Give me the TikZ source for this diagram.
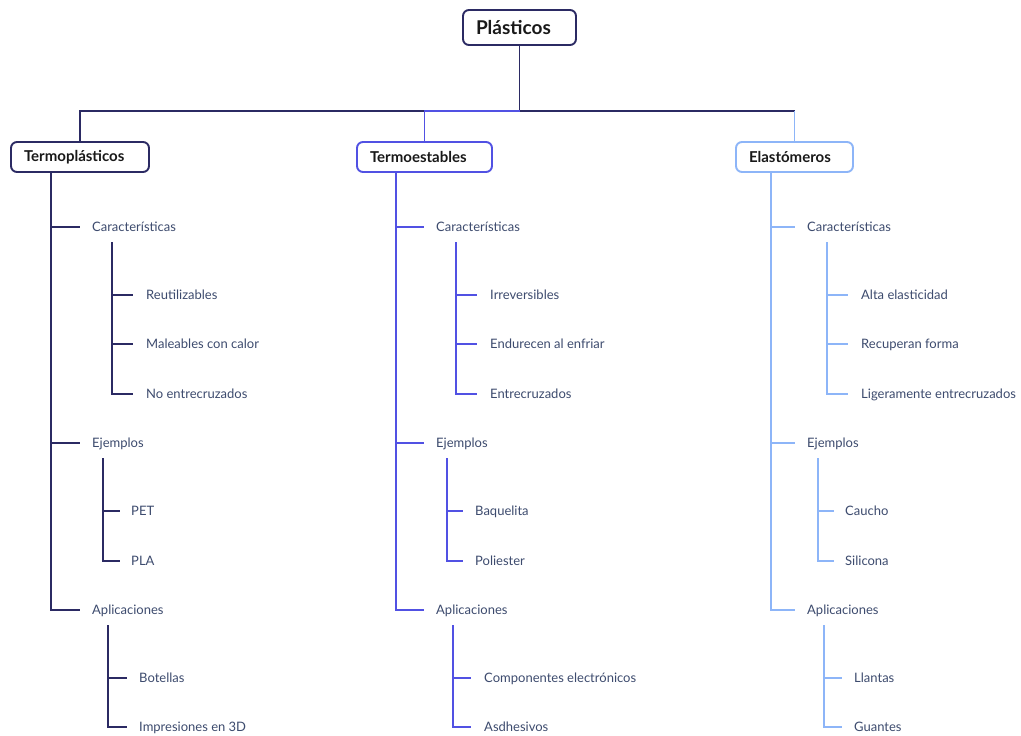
\documentclass[tikz,border=0pt]{standalone}
\usepackage{fontspec}
\setmainfont{Lato}
\definecolor{cA}{HTML}{2B2A63}
\definecolor{cB}{HTML}{5151E3}
\definecolor{cC}{HTML}{8DB5F8}
\definecolor{txt}{HTML}{3D4B6E}
\begin{document}
\begin{tikzpicture}[x=1pt,y=-1pt,
  ln/.style={line width=1.9pt},
  lbl/.style={anchor=west,inner xsep=0pt,inner ysep=1pt,text height=9.4pt,text depth=0pt,text=txt,font=\fontsize{13}{15}\selectfont},
  box/.style={draw,line width=1.9pt,rounded corners=6pt,fill=white,inner xsep=13pt,inner ysep=0pt,
    align=left,text=black!90,font=\bfseries\fontsize{15}{18}\selectfont,minimum height=30pt}]
\useasboundingbox[fill=white] (0,0) rectangle (1021,736);

% root and branch boxes
\node[box,draw=cA,font=\bfseries\fontsize{19}{22}\selectfont,minimum height=35pt,text width=87pt] (root) at (519.5,27.5) {Plásticos};
\node[box,draw=cA,text width=112pt] (tp) at (80,157) {Termoplásticos};
\node[box,draw=cB,text width=109pt] (te) at (424.5,157) {Termoestables};
\node[box,draw=cC,text width=91pt] (el) at (794.5,157) {Elastómeros};

% top connectors
\draw[ln,cA] (root.south) -- ++(0,65) coordinate (bus) -| (tp.north);
\draw[ln,cA] (bus) -| (el.north |- bus) coordinate (busC);
\draw[ln,cB] (bus) -| (te.north);
\draw[ln,cC] (busC) -- (el.north);

% ---------- Branch A ----------
\coordinate (am) at ([xshift=41pt]tp.south west);
\node[lbl] (a1) at (92,227) {Características};
\node[lbl] (a2) at (92,443) {Ejemplos};
\node[lbl] (a3) at (92,610) {Aplicaciones};
\draw[ln,cA] (am) |- ([xshift=-12pt]a3.west);
\draw[ln,cA] (a1.west -| am) -- ([xshift=-12pt]a1.west);
\draw[ln,cA] (a2.west -| am) -- ([xshift=-12pt]a2.west);
\coordinate (as1) at ([xshift=20pt,yshift=-15pt]a1.west);
\coordinate (as2) at ([xshift=11pt,yshift=-15pt]a2.west);
\coordinate (as3) at ([xshift=16pt,yshift=-15pt]a3.west);
\foreach \n/\yy/\tt in {a11/295/Reutilizables,a12/344/Maleables con calor,a13/394/No entrecruzados}{
  \node[lbl] (\n) at (146,\yy) {\tt};
  \draw[ln,cA] (\n.west -| as1) -- ([xshift=-13pt]\n.west);}
\draw[ln,cA] (as1) |- ([xshift=-13pt]a13.west);
\foreach \n/\yy/\tt in {a21/511/PET,a22/561/PLA}{
  \node[lbl] (\n) at (131,\yy) {\tt};
  \draw[ln,cA] (\n.west -| as2) -- ([xshift=-11pt]\n.west);}
\draw[ln,cA] (as2) |- ([xshift=-11pt]a22.west);
\foreach \n/\yy/\tt in {a31/678/Botellas,a32/727/Impresiones en 3D}{
  \node[lbl] (\n) at (139,\yy) {\tt};
  \draw[ln,cA] (\n.west -| as3) -- ([xshift=-12pt]\n.west);}
\draw[ln,cA] (as3) |- ([xshift=-12pt]a32.west);

% ---------- Branch B ----------
\coordinate (bm) at ([xshift=40pt]te.south west);
\node[lbl] (b1) at (436,227) {Características};
\node[lbl] (b2) at (436,443) {Ejemplos};
\node[lbl] (b3) at (436,610) {Aplicaciones};
\draw[ln,cB] (bm) |- ([xshift=-12pt]b3.west);
\draw[ln,cB] (b1.west -| bm) -- ([xshift=-12pt]b1.west);
\draw[ln,cB] (b2.west -| bm) -- ([xshift=-12pt]b2.west);
\coordinate (bs1) at ([xshift=20pt,yshift=-15pt]b1.west);
\coordinate (bs2) at ([xshift=11pt,yshift=-15pt]b2.west);
\coordinate (bs3) at ([xshift=17pt,yshift=-15pt]b3.west);
\foreach \n/\yy/\tt in {b11/295/Irreversibles,b12/344/Endurecen al enfriar,b13/394/Entrecruzados}{
  \node[lbl] (\n) at (490,\yy) {\tt};
  \draw[ln,cB] (\n.west -| bs1) -- ([xshift=-13pt]\n.west);}
\draw[ln,cB] (bs1) |- ([xshift=-13pt]b13.west);
\foreach \n/\yy/\tt in {b21/511/Baquelita,b22/561/Poliester}{
  \node[lbl] (\n) at (475,\yy) {\tt};
  \draw[ln,cB] (\n.west -| bs2) -- ([xshift=-12pt]\n.west);}
\draw[ln,cB] (bs2) |- ([xshift=-12pt]b22.west);
\foreach \n/\yy/\tt in {b31/678/Componentes electrónicos,b32/727/Asdhesivos}{
  \node[lbl] (\n) at (484,\yy) {\tt};
  \draw[ln,cB] (\n.west -| bs3) -- ([xshift=-13pt]\n.west);}
\draw[ln,cB] (bs3) |- ([xshift=-13pt]b32.west);

% ---------- Branch C ----------
\coordinate (cm) at ([xshift=36pt]el.south west);
\node[lbl] (c1) at (807,227) {Características};
\node[lbl] (c2) at (807,443) {Ejemplos};
\node[lbl] (c3) at (807,610) {Aplicaciones};
\draw[ln,cC] (cm) |- ([xshift=-12pt]c3.west);
\draw[ln,cC] (c1.west -| cm) -- ([xshift=-12pt]c1.west);
\draw[ln,cC] (c2.west -| cm) -- ([xshift=-12pt]c2.west);
\coordinate (cs1) at ([xshift=20pt,yshift=-15pt]c1.west);
\coordinate (cs2) at ([xshift=11pt,yshift=-15pt]c2.west);
\coordinate (cs3) at ([xshift=17pt,yshift=-15pt]c3.west);
\foreach \n/\yy/\tt in {c11/295/Alta elasticidad,c12/344/Recuperan forma,c13/394/Ligeramente entrecruzados}{
  \node[lbl] (\n) at (861,\yy) {\tt};
  \draw[ln,cC] (\n.west -| cs1) -- ([xshift=-13pt]\n.west);}
\draw[ln,cC] (cs1) |- ([xshift=-13pt]c13.west);
\foreach \n/\yy/\tt in {c21/511/Caucho,c22/561/Silicona}{
  \node[lbl] (\n) at (845,\yy) {\tt};
  \draw[ln,cC] (\n.west -| cs2) -- ([xshift=-11pt]\n.west);}
\draw[ln,cC] (cs2) |- ([xshift=-11pt]c22.west);
\foreach \n/\yy/\tt in {c31/678/Llantas,c32/727/Guantes}{
  \node[lbl] (\n) at (854,\yy) {\tt};
  \draw[ln,cC] (\n.west -| cs3) -- ([xshift=-12pt]\n.west);}
\draw[ln,cC] (cs3) |- ([xshift=-12pt]c32.west);
\end{tikzpicture}
\end{document}
